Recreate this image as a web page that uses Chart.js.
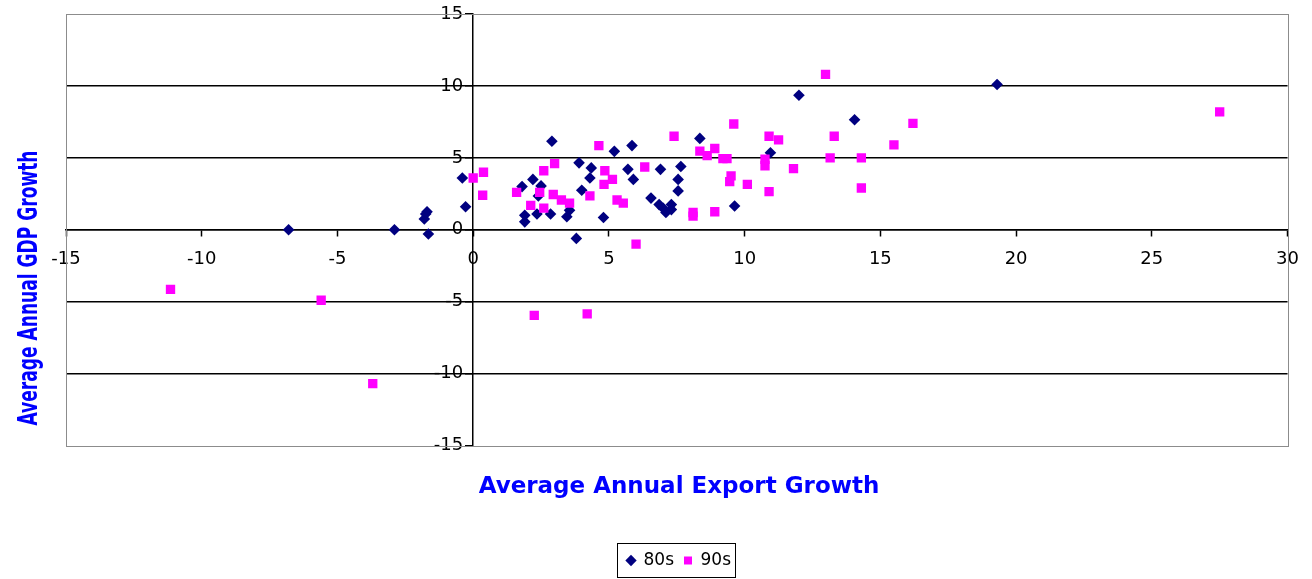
<!DOCTYPE html>
<html>
<head>
<meta charset="utf-8">
<script src="https://cdn.jsdelivr.net/npm/chart.js@4.4.1/dist/chart.umd.min.js"></script>
<style>
  html, body { margin: 0; padding: 0; background: #ffffff; }
  #wrap { width: 1312px; height: 579px; }
</style>
</head>
<body>
<div id="wrap"><canvas id="chart" width="1312" height="579"></canvas></div>
<script>
// Average annual export growth (x) against average annual GDP growth (y), by country
const export80s = [-6.8, -2.9, -1.75, -1.7, -1.8, -1.65, -0.4, -0.28, 1.8, 2.2, 2.5, 2.4, 1.9, 1.9, 2.35,
  2.85, 2.9, 3.55, 3.45, 3.9, 4.0, 3.8, 4.35, 4.3, 4.8, 5.2, 5.85, 5.7, 5.9, 6.9, 6.55, 6.85, 7.0, 7.1,
  7.3, 7.3, 7.65, 7.55, 7.55, 8.35, 9.63, 10.95, 12.0, 14.05, 19.3];
const gdp80s = [0.0, 0.0, 1.1, 1.25, 0.75, -0.3, 3.6, 1.6, 3.0, 3.5, 3.05, 2.35, 1.0, 0.55, 1.1,
  1.1, 6.15, 1.35, 0.9, 4.65, 2.75, -0.6, 4.3, 3.6, 0.85, 5.45, 5.85, 4.2, 3.5, 4.2, 2.2, 1.75, 1.5, 1.2,
  1.75, 1.4, 4.4, 3.5, 2.7, 6.35, 1.65, 5.35, 9.35, 7.65, 10.1];

const export90s = [-11.15, -5.6, -3.7, 2.25, 4.2, 6.0, 0.0, 0.38, 0.35, 1.6, 2.12, 2.45, 2.6, 2.6, 3.0,
  2.95, 3.25, 3.55, 4.3, 4.63, 4.85, 4.82, 5.13, 5.3, 5.53, 6.32, 7.4, 8.1, 8.1, 8.35, 8.62, 8.9, 8.9,
  9.2, 9.35, 9.5, 9.45, 9.6, 10.1, 10.75, 10.75, 10.9, 11.25, 10.9, 11.8, 12.98, 13.15, 13.3, 14.3,
  14.3, 15.5, 16.2, 27.5];
const gdp90s = [-4.15, -4.9, -10.7, -5.95, -5.85, -1.0, 3.6, 4.0, 2.4, 2.6, 1.7, 2.6, 1.5, 4.1, 4.6,
  2.45, 2.07, 1.85, 2.35, 5.85, 4.1, 3.15, 3.5, 2.07, 1.85, 4.36, 6.5, 0.95, 1.2, 5.47, 5.15, 5.65, 1.25,
  4.95, 4.95, 3.75, 3.35, 7.35, 3.15, 4.9, 4.45, 6.5, 6.25, 2.65, 4.25, 10.8, 5.0, 6.5, 5.0,
  2.9, 5.9, 7.4, 8.2];

const seriesNames = ['80s', '90s'];
const xRange = [-15, 30];
const yRange = [-15, 15];
const tickStep = 5;
const xTitle = 'Average Annual Export Growth';
const yTitle = 'Average Annual GDP Growth';

const toPoints = (xs, ys) => xs.map((x, i) => ({ x: x, y: ys[i] }));

// Linear scale for an axis that crosses the other one at a value: keeps the
// vertical axis' tick labels clear of its tick marks
class CrossedLinearScale extends Chart.LinearScale {
  _computeLabelItems(chartArea) {
    const items = super._computeLabelItems(chartArea);
    if (!this.isHorizontal()) {
      const shift = this.options.grid.tickLength + this.options.ticks.padding;
      items.forEach(item => { item.options.translation[0] -= shift; });
    }
    return items;
  }
}
CrossedLinearScale.id = 'crossedLinear';
CrossedLinearScale.defaults = Chart.LinearScale.defaults;
Chart.register(CrossedLinearScale);

// Grey plot-area frame, rotated y-axis title and the box around the legend
const decorations = {
  id: 'decorations',
  beforeDatasetsDraw(chart) {
    const { ctx, chartArea: a } = chart;
    ctx.save();
    ctx.strokeStyle = '#8c8c8c';
    ctx.lineWidth = 1;
    ctx.strokeRect(Math.round(a.left) + 0.5, Math.round(a.top) + 0.5,
      Math.round(a.right - a.left), Math.round(a.bottom - a.top));
    ctx.restore();
  },
  afterDraw(chart) {
    const ctx = chart.ctx;
    ctx.save();
    ctx.translate(30, 288);
    ctx.rotate(-Math.PI / 2);
    ctx.font = 'bold 26px "DejaVu Sans"';
    const w = ctx.measureText(yTitle).width;
    ctx.scale(275 / w, 1);
    ctx.fillStyle = '#0000ff';
    ctx.textAlign = 'center';
    ctx.textBaseline = 'middle';
    ctx.fillText(yTitle, 0, 0);
    ctx.restore();

    const boxes = chart.legend && chart.legend.legendHitBoxes;
    if (boxes && boxes.length) {
      const left = Math.min(...boxes.map(b => b.left));
      const right = Math.max(...boxes.map(b => b.left + b.width));
      const top = Math.min(...boxes.map(b => b.top));
      const bottom = Math.max(...boxes.map(b => b.top + b.height));
      ctx.save();
      ctx.strokeStyle = '#000000';
      ctx.lineWidth = 1;
      ctx.strokeRect(Math.round(left - 10) + 0.5, Math.round(top - 9) + 0.5,
        Math.round(right - left + 14), Math.round(bottom - top + 17));
      ctx.restore();
    }
  }
};

const tickFont = { family: 'DejaVu Sans', size: 18 };

new Chart(document.getElementById('chart'), {
  type: 'scatter',
  data: {
    datasets: [
      {
        label: seriesNames[0],
        data: toPoints(export80s, gdp80s),
        pointStyle: 'rectRot',
        pointRadius: 5.8,
        pointHoverRadius: 5.8,
        backgroundColor: '#000080',
        borderColor: '#000080',
        borderWidth: 0,
        order: 1
      },
      {
        label: seriesNames[1],
        data: toPoints(export90s, gdp90s),
        pointStyle: 'rect',
        pointRadius: 6.6,
        pointHoverRadius: 6.6,
        backgroundColor: '#ff00ff',
        borderColor: '#ff00ff',
        borderWidth: 0,
        order: 0
      }
    ]
  },
  options: {
    responsive: false,
    animation: false,
    devicePixelRatio: 1,
    layout: { padding: { left: 66, right: 20, top: 14, bottom: 0 } },
    scales: {
      x: {
        type: 'linear',
        min: xRange[0],
        max: xRange[1],
        position: { y: 0 },
        afterFit(scale) { scale.height = 0; },
        ticks: {
          stepSize: tickStep,
          autoSkip: false,
          maxRotation: 0,
          color: '#000000',
          font: tickFont,
          padding: 13
        },
        grid: {
          drawOnChartArea: false,
          drawTicks: true,
          tickLength: 6,
          color: '#000000',
          tickColor: '#000000',
          tickWidth: 1.5
        },
        border: { display: true, color: '#000000', width: 1.5 }
      },
      y: {
        type: 'crossedLinear',
        min: yRange[0],
        max: yRange[1],
        position: { x: 0 },
        afterFit(scale) { scale.width = 0; },
        ticks: {
          stepSize: tickStep,
          autoSkip: false,
          color: '#000000',
          font: tickFont,
          padding: 3
        },
        grid: {
          color: (c) => (c.tick && Math.abs(c.tick.value) === 15) ? 'rgba(0,0,0,0)' : '#000000',
          tickColor: '#000000',
          drawTicks: true,
          tickLength: 7,
          lineWidth: 1.5,
          tickWidth: 1.5
        },
        border: { display: true, color: '#000000', width: 1.5 }
      }
    },
    plugins: {
      title: {
        display: true,
        text: xTitle,
        position: 'bottom',
        weight: 500,
        color: '#0000ff',
        font: { family: 'DejaVu Sans', size: 23, weight: 'bold', lineHeight: 1.2 },
        padding: { top: 28.2, bottom: 40.7 }
      },
      legend: {
        display: true,
        position: 'bottom',
        labels: {
          usePointStyle: true,
          boxWidth: 8,
          boxHeight: 8,
          color: '#000000',
          font: { family: 'DejaVu Sans', size: 17 },
          padding: 10,
          sort: (a, b) => a.datasetIndex - b.datasetIndex
        }
      },
      tooltip: { enabled: false }
    }
  },
  plugins: [decorations]
});
</script>
</body>
</html>
